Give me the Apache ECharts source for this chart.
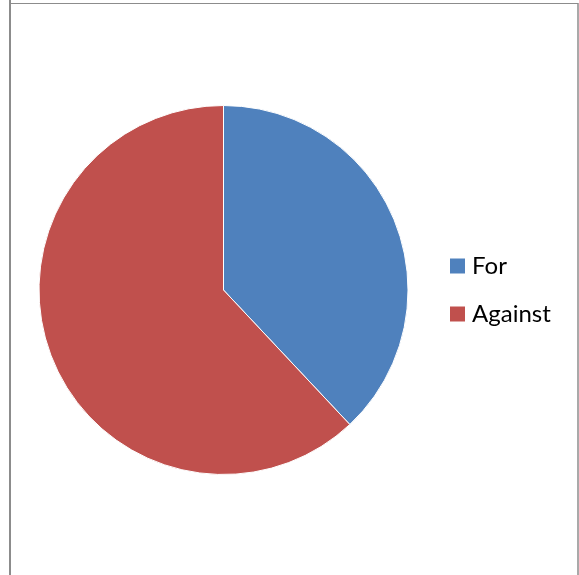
<!DOCTYPE html>
<html>
<head>
<meta charset="utf-8">
<script src="https://cdn.jsdelivr.net/npm/echarts@6/dist/echarts.min.js"></script>
<style>html,body{margin:0;padding:0;background:#fff}#c{width:579px;height:575px}</style>
</head>
<body>
<div id="c"></div>
<script>
const categories = ['For', 'Against'];
const values = [38, 62];
const colors = ['#4F81BD', '#C0504D'];

const chart = echarts.init(document.getElementById('c'), null, {renderer: 'canvas'});
chart.setOption({
  animation: false,
  backgroundColor: '#fff',
  color: colors,
  graphic: [
    {type: 'line', shape: {x1: 10, y1: 0, x2: 10, y2: 575}, style: {stroke: '#8c8c8c', lineWidth: 2}},
    {type: 'line', shape: {x1: 10, y1: 3.5, x2: 578, y2: 3.5}, style: {stroke: '#8c8c8c', lineWidth: 1}},
    {type: 'line', shape: {x1: 578, y1: 3, x2: 578, y2: 575}, style: {stroke: '#8c8c8c', lineWidth: 1.5}}
  ],
  legend: {
    orient: 'vertical',
    left: 450,
    top: 254,
    padding: 0,
    itemWidth: 15,
    itemHeight: 15,
    itemGap: 24,
    icon: 'rect',
    itemStyle: {borderWidth: 0},
    textStyle: {fontFamily: 'Lato', fontSize: 24, color: '#000', padding: [0, 0, 0, 2]},
    data: categories
  },
  series: [{
    type: 'pie',
    center: [223.5, 290],
    radius: 184.5,
    startAngle: 90,
    clockwise: true,
    label: {show: false},
    labelLine: {show: false},
    emphasis: {disabled: true},
    itemStyle: {borderColor: '#fff', borderWidth: 1},
    data: categories.map((c, i) => ({name: c, value: values[i]}))
  }]
});
</script>
</body>
</html>
